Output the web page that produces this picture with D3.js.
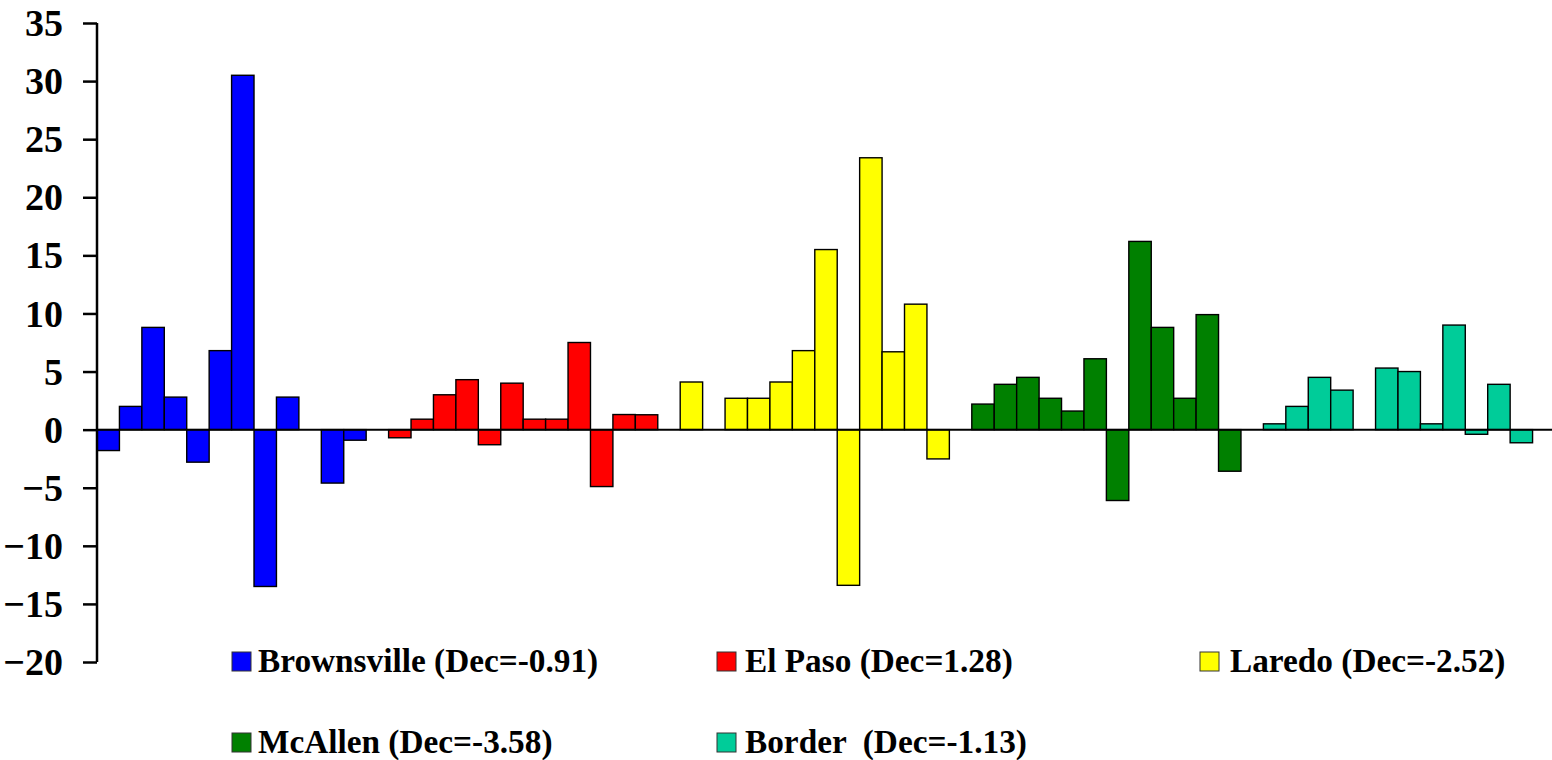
<!DOCTYPE html>
<html>
<head>
<meta charset="utf-8">
<script src="https://cdn.jsdelivr.net/npm/d3@7"></script>
<style>
  html, body { margin: 0; padding: 0; background: #fff; overflow: hidden; }
  svg { display: block; }
  text { font-family: "Liberation Serif", "Times New Roman", serif; font-weight: bold; fill: #000; }
</style>
</head>
<body>
<svg id="chart" width="1552" height="760"></svg>
<script>
// ---- data ----
const months = ["Jan","Feb","Mar","Apr","May","Jun","Jul","Aug","Sep","Oct","Nov","Dec"];
const seriesNames = ["Brownsville", "El Paso", "Laredo", "McAllen", "Border"];
const legendLabels = ["Brownsville (Dec=-0.91)", "El Paso (Dec=1.28)", "Laredo (Dec=-2.52)", "McAllen (Dec=-3.58)", "Border  (Dec=-1.13)"];
const brownsville = [-1.8, 2.0, 8.8, 2.8, -2.8, 6.8, 30.5, -13.5, 2.8, null, -4.6, -0.91];
const elPaso      = [-0.7, 0.9, 3.0, 4.3, -1.3, 4.0, 0.9, 0.9, 7.5, -4.9, 1.3, 1.28];
const laredo      = [4.1, null, 2.7, 2.7, 4.1, 6.8, 15.5, -13.4, 23.4, 6.7, 10.8, -2.52];
const mcallen     = [2.2, 3.9, 4.5, 2.7, 1.6, 6.1, -6.1, 16.2, 8.8, 2.7, 9.9, -3.58];
const border      = [0.5, 2.0, 4.5, 3.4, null, 5.3, 5.0, 0.5, 9.0, -0.4, 3.9, -1.13];
const yTicks = [-20, -15, -10, -5, 0, 5, 10, 15, 20, 25, 30, 35];
const colors = ["#0000FF", "#FF0000", "#FFFF00", "#008000", "#00CC99"];

const seriesValues = [brownsville, elPaso, laredo, mcallen, border];

// ---- build category keys: 12 months per series + 1 gap slot ----
const keys = [];
seriesNames.forEach(s => {
  months.forEach(m => keys.push(s + "|" + m));
  keys.push(s + "|gap");
});

const bars = [];
seriesNames.forEach((s, i) => {
  seriesValues[i].forEach((v, j) => {
    if (v !== null) bars.push({ key: s + "|" + months[j], value: v, color: colors[i] });
  });
});

const svg = d3.select("#chart");
const x = d3.scaleBand().domain(keys).range([97, 1555]).padding(0);
const y = d3.scaleLinear().domain([-20, 35]).range([662, 23]);

// bars
svg.append("g").selectAll("rect").data(bars).join("rect")
  .attr("x", d => x(d.key))
  .attr("width", x.bandwidth())
  .attr("y", d => y(Math.max(0, d.value)))
  .attr("height", d => Math.abs(y(d.value) - y(0)))
  .attr("fill", d => d.color)
  .attr("stroke", "#000")
  .attr("stroke-width", 1.4);

// zero line
svg.append("line")
  .attr("x1", 97).attr("x2", 1552)
  .attr("y1", y(0)).attr("y2", y(0))
  .attr("stroke", "#000").attr("stroke-width", 2);

// y axis
const yAxis = d3.axisLeft(y).tickValues(yTicks).tickSize(14).tickPadding(20).tickFormat(d3.format("d"));
const gy = svg.append("g").attr("transform", "translate(97,0)").call(yAxis);
gy.select(".domain").attr("stroke", "#000").attr("stroke-width", 2.5).attr("d", "M0," + y(35) + "V" + y(-20));
gy.selectAll(".tick line").attr("stroke", "#000").attr("stroke-width", 2.5);
gy.selectAll(".tick text")
  .style("font-family", '"Liberation Serif", "Times New Roman", serif')
  .style("font-weight", "bold")
  .style("font-size", "38px")
  .attr("fill", "#000")
  .attr("dy", "0.33em");

// legend
const legendPos = [
  { sx: 232, tx: 258, base: 672 },
  { sx: 717, tx: 745, base: 672 },
  { sx: 1200, tx: 1230, base: 672 },
  { sx: 232, tx: 258, base: 753 },
  { sx: 717, tx: 745, base: 753 }
];
const lg = svg.append("g").selectAll("g").data(seriesNames).join("g");
lg.append("rect")
  .attr("x", (d, i) => legendPos[i].sx)
  .attr("y", (d, i) => legendPos[i].base - 20)
  .attr("width", 19).attr("height", 19)
  .attr("fill", (d, i) => colors[i])
  .attr("stroke", "#333").attr("stroke-width", 1);
lg.append("text")
  .attr("x", (d, i) => legendPos[i].tx)
  .attr("y", (d, i) => legendPos[i].base)
  .attr("xml:space", "preserve")
  .style("white-space", "pre")
  .style("font-size", "33.3px")
  .text((d, i) => legendLabels[i]);
</script>
</body>
</html>
